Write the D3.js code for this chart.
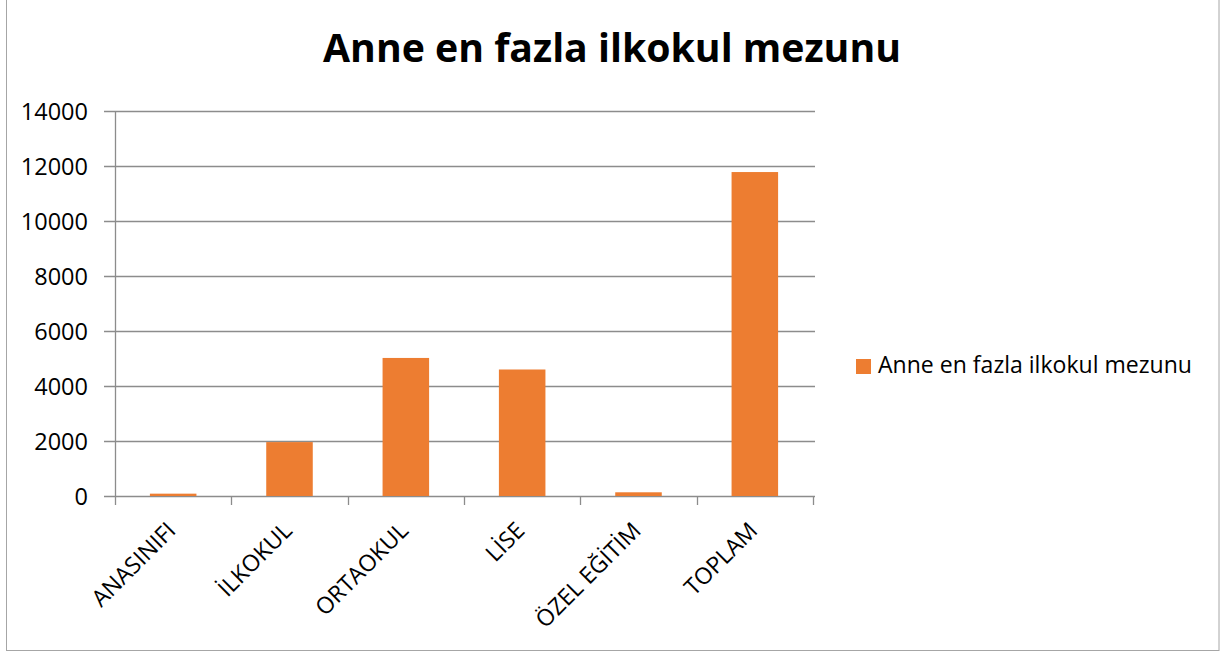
<!DOCTYPE html>
<html><head><meta charset="utf-8">
<script src="https://cdn.jsdelivr.net/npm/d3@7"></script>
<style>body{margin:0;background:#fff}svg{display:block}</style>
</head><body>
<svg id="c" width="1227" height="655"></svg>
<script>
const categories = ["ANASINIFI","İLKOKUL","ORTAOKUL","LİSE","ÖZEL EĞİTİM","TOPLAM"];
const values = [85, 1960, 5020, 4600, 135, 11780];
const yTicks = [0,2000,4000,6000,8000,10000,12000,14000];
const title = "Anne en fazla ilkokul mezunu";
const seriesName = "Anne en fazla ilkokul mezunu";

const svg = d3.select("#c");
const font = "'Open Sans', 'Noto Sans', sans-serif";
svg.append("rect").attr("x",6.5).attr("y",-2).attr("width",1212.5).attr("height",652.5)
  .attr("fill","#fff").attr("stroke","#a6a6a6").attr("stroke-width",1);

const L=115, R=813, T=111, B=496;
const x = d3.scaleBand().domain(categories).range([L,R]).paddingInner(0.6).paddingOuter(0.3);
const xb = d3.scaleBand().domain(categories).range([L,R]);
const y = d3.scaleLinear().domain([0,14000]).range([B,T]);

// gridlines
svg.append("g").selectAll("line").data(yTicks).join("line")
  .attr("x1",L-11).attr("x2",R+2).attr("y1",d=>Math.round(y(d))+0.5).attr("y2",d=>Math.round(y(d))+0.5)
  .attr("stroke","#8c8c8c").attr("stroke-width",1.3);
// y axis
svg.append("line").attr("x1",L+0.5).attr("x2",L+0.5).attr("y1",T).attr("y2",B+0.5).attr("stroke","#8c8c8c").attr("stroke-width",1.3);
svg.append("g").selectAll("text").data(yTicks).join("text")
  .attr("x",88).attr("y",d=>y(d)+8.5).attr("text-anchor","end")
  .attr("font-family",font).attr("font-size",23.5).attr("fill","#000").text(d=>d);
// x ticks
const bounds = categories.map(c=>xb(c)).concat([R]);
svg.append("g").selectAll("line").data(bounds).join("line")
  .attr("x1",d=>Math.round(d)+0.5).attr("x2",d=>Math.round(d)+0.5).attr("y1",B).attr("y2",B+9)
  .attr("stroke","#8c8c8c").attr("stroke-width",1.3);
// bars
svg.append("g").selectAll("rect").data(categories).join("rect")
  .attr("x",d=>x(d)).attr("width",x.bandwidth())
  .attr("y",(d,i)=>y(values[i])).attr("height",(d,i)=>B-y(values[i]))
  .attr("fill","#ED7D31");
// x labels
svg.append("g").selectAll("text").data(categories).join("text")
  .attr("transform",d=>`translate(${xb(d)+xb.bandwidth()/2+4},${B+36}) rotate(-45)`)
  .attr("text-anchor","end").attr("font-family",font).attr("font-size",23).attr("fill","#000").text(d=>d);
// title
const t = svg.append("text").attr("x",612).attr("y",62).attr("text-anchor","middle")
  .attr("font-family",font).attr("font-weight","bold").attr("font-size",36).attr("fill","#000").text(title);
const tw = t.node().getComputedTextLength();
t.attr("font-size",36*578/tw);
// legend
svg.append("rect").attr("x",856).attr("y",359).attr("width",15).attr("height",15).attr("fill","#ED7D31");
const lt = svg.append("text").attr("x",878).attr("y",373).attr("font-family",font).attr("font-size",19).attr("fill","#000").text(seriesName);
const lw = lt.node().getComputedTextLength();
lt.attr("font-size",19*314/lw);
</script>
</body></html>
